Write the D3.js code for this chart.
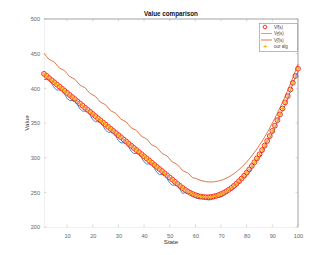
<!DOCTYPE html>
<html><head><meta charset="utf-8">
<script src="https://cdn.jsdelivr.net/npm/d3@7"></script>
<style>body{margin:0;background:#fff}svg{display:block}</style>
</head><body>
<svg id="c" width="330" height="255"></svg>
<script>
const states = d3.range(1, 101);
const vStar = [420.9,417.8,414.8,411.7,408.7,405.6,402.6,399.5,396.5,393.4,
390.4,387.3,384.3,381.2,378.2,375.1,372.1,369.0,366.0,362.9,
359.9,356.8,353.8,350.7,347.7,344.6,341.6,338.5,335.5,332.4,
329.4,326.3,323.3,320.2,317.2,314.1,311.1,308.0,305.0,301.9,
298.9,295.8,292.8,289.7,286.7,283.6,280.6,277.5,274.5,271.4,
268.4,265.3,262.3,259.2,256.3,253.6,251.3,249.2,247.4,246.0,
244.8,243.9,243.3,243.0,243.0,243.3,243.9,244.8,246.0,247.4,
249.2,251.3,253.6,256.3,259.2,262.4,266.0,269.8,273.9,278.3,
283.0,288.0,293.3,298.9,304.8,311.0,317.4,324.2,331.2,338.6,
346.2,354.2,362.4,370.9,379.7,388.9,398.3,408.0,418.0,428.3];
const v1 = [412.9,412.8,412.8,406.7,400.7,397.6,397.6,397.5,391.5,385.4,
382.4,382.3,382.3,376.2,370.2,367.1,367.1,367.0,361.0,354.9,
351.9,351.8,351.8,345.7,339.7,336.6,336.6,336.5,330.5,324.4,
321.4,321.3,321.3,315.2,309.2,306.1,306.1,306.0,300.0,293.9,
290.9,290.8,290.8,284.7,278.7,275.6,275.6,275.5,269.5,263.4,
260.4,260.3,260.3,254.2,248.3,249.6,248.3,248.2,244.4,242.0,
240.8,240.9,242.3,240.0,239.0,239.3,240.9,243.8,243.0,243.4,
245.2,248.3,252.6,253.3,255.2,258.4,263.0,268.8,270.9,274.3,
279.0,285.0,292.3,295.9,300.8,307.0,314.4,323.2,328.2,334.6,
342.2,351.2,361.4,367.9,375.7,384.9,395.3,407.0,415.0,424.3];
const v2 = [450.2,445.9,441.6,439.8,437.9,433.6,429.3,427.4,425.6,421.3,
417.0,415.1,413.2,409.0,404.7,402.8,400.9,396.6,392.4,390.5,
388.6,384.3,380.0,378.2,376.3,372.0,367.7,365.8,364.0,359.7,
355.4,353.5,351.6,347.4,343.1,341.2,339.3,335.0,330.8,328.9,
327.0,322.7,318.4,316.6,314.7,310.4,306.1,304.2,302.4,298.1,
293.8,291.9,290.0,285.8,281.5,279.7,278.1,274.4,271.0,270.3,
268.7,267.4,266.3,265.6,265.1,265.0,265.1,265.6,266.3,267.4,
268.7,270.3,272.2,274.4,276.9,279.7,282.8,286.2,289.8,293.8,
298.1,302.6,307.5,312.6,318.1,323.8,329.8,336.1,342.8,349.7,
356.9,364.4,372.2,380.2,388.6,397.3,406.3,415.5,425.1,434.9];
const ourAlg = vStar.slice();
const xTicks = [10,20,30,40,50,60,70,80,90,100];
const yTicks = [200,250,300,350,400,450,500];
const legendLabels = [["V","π","*"],["V","π","1"],["V","π","2"],["our alg"]];

const svg = d3.select("#c");
const L = 44, R = 298, T = 19, B = 227;
const x = d3.scaleLinear().domain([1,100]).range([L,R]);
const y = d3.scaleLinear().domain([200,500]).range([B,T]);
const font = "'Liberation Sans', Arial, sans-serif";

const xAxis = svg.append("g").attr("transform",`translate(0,${B})`)
  .call(d3.axisBottom(x).tickValues(xTicks).tickSize(0).tickPadding(7));
const yAxis = svg.append("g").attr("transform",`translate(${L},0)`)
  .call(d3.axisLeft(y).tickValues(yTicks).tickSize(0).tickPadding(4));
[xAxis,yAxis].forEach(a=>{
  a.select(".domain").attr("stroke","#e6e6e6").attr("stroke-width",0.6);
  a.selectAll("text").attr("fill","#666").attr("font-size","5.6px").attr("font-family",font);
});
svg.append("line").attr("x1",L).attr("x2",R).attr("y1",T).attr("y2",T).attr("stroke","#8a8a8a").attr("stroke-width",0.8);
svg.append("line").attr("x1",R).attr("x2",R).attr("y1",T).attr("y2",B).attr("stroke","#8a8a8a").attr("stroke-width",0.8);
const tg = svg.append("g").attr("stroke","#b0b0b0").attr("stroke-width",0.5);
xTicks.forEach(t=>{
  tg.append("line").attr("x1",x(t)).attr("x2",x(t)).attr("y1",B).attr("y2",B-2.5);
  tg.append("line").attr("x1",x(t)).attr("x2",x(t)).attr("y1",T).attr("y2",T+2.5);
});
yTicks.forEach(t=>{
  tg.append("line").attr("x1",L).attr("x2",L+2.5).attr("y1",y(t)).attr("y2",y(t));
  tg.append("line").attr("x1",R).attr("x2",R-2.5).attr("y1",y(t)).attr("y2",y(t));
});

svg.append("text").attr("x",171).attr("y",16).attr("text-anchor","middle")
  .attr("font-size","6.3px").attr("font-weight","bold").attr("font-family",font).attr("fill","#111").text("Value comparison");
svg.append("text").attr("x",171).attr("y",244).attr("text-anchor","middle")
  .attr("font-size","6.2px").attr("font-family",font).attr("fill","#333").text("State");
svg.append("text").attr("transform","translate(29,123) rotate(-90)").attr("text-anchor","middle")
  .attr("font-size","6.2px").attr("font-family",font).attr("fill","#333").text("Value");

const line = d3.line().x((d,i)=>x(states[i])).y(d=>y(d));
svg.append("path").datum(v1).attr("d",line).attr("fill","none").attr("stroke","#2a86cf").attr("stroke-width",0.9);
svg.append("path").datum(v2).attr("d",line).attr("fill","none").attr("stroke","#D95319").attr("stroke-width",0.8);
svg.append("g").selectAll("circle").data(vStar).join("circle")
  .attr("cx",(d,i)=>x(states[i])).attr("cy",d=>y(d)).attr("r",2.4)
  .attr("fill","none").attr("stroke","#ff1a1a").attr("stroke-width",0.95);
const pl = svg.append("g").attr("stroke","#F2B51E").attr("stroke-width",0.9);
ourAlg.forEach((d,i)=>{
  const cx=x(states[i]), cy=y(d);
  pl.append("line").attr("x1",cx-2.1).attr("x2",cx+2.1).attr("y1",cy).attr("y2",cy);
  pl.append("line").attr("x1",cx).attr("x2",cx).attr("y1",cy-2.1).attr("y2",cy+2.1);
});

const lg = svg.append("g");
lg.append("rect").attr("x",259.5).attr("y",23.5).attr("width",38).attr("height",28)
  .attr("fill","#fff").attr("stroke","#8a8a8a").attr("stroke-width",0.6);
const rowY = [27,33.5,40,46.5];
lg.append("circle").attr("cx",265).attr("cy",rowY[0]).attr("r",1.8).attr("fill","none").attr("stroke","#ff1a1a").attr("stroke-width",0.9);
lg.append("line").attr("x1",261).attr("x2",272).attr("y1",rowY[1]).attr("y2",rowY[1]).attr("stroke","#6fb2e8").attr("stroke-width",0.9);
lg.append("line").attr("x1",261).attr("x2",272).attr("y1",rowY[2]).attr("y2",rowY[2]).attr("stroke","#D95319").attr("stroke-width",0.8);
lg.append("line").attr("x1",263.3).attr("x2",267.1).attr("y1",rowY[3]).attr("y2",rowY[3]).attr("stroke","#F2B51E").attr("stroke-width",0.9);
lg.append("line").attr("x1",265.2).attr("x2",265.2).attr("y1",rowY[3]-1.9).attr("y2",rowY[3]+1.9).attr("stroke","#F2B51E").attr("stroke-width",0.9);
legendLabels.forEach((lab,i)=>{
  const t = lg.append("text").attr("x",274).attr("y",rowY[i]+1.5)
    .attr("font-size","4.5px").attr("font-family",font).attr("fill","#444");
  if(lab.length===1){ t.text(lab[0]); return; }
  t.append("tspan").text(lab[0]);
  t.append("tspan").attr("font-size","3.2px").attr("dy",-1.5).text(lab[1]);
  t.append("tspan").attr("font-size","3.2px").attr("dx",-2.6).attr("dy",2.7).text(lab[2]);
  t.append("tspan").attr("dy",-1.2).text("(s)");
});
</script>
</body></html>
